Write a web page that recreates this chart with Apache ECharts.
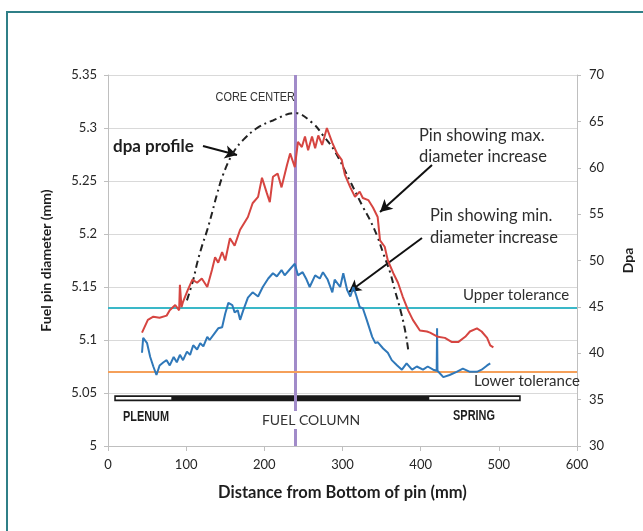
<!DOCTYPE html>
<html><head><meta charset="utf-8">
<script src="https://cdn.jsdelivr.net/npm/echarts@6.0.0/dist/echarts.min.js"></script>
<style>html,body{margin:0;padding:0;background:#fff}#c{width:643px;height:531px}</style>
</head><body><div id="c"></div>
<script>
// ---- data ----
const xTickLabels = [0, 100, 200, 300, 400, 500, 600];
const leftTickLabels = [5, 5.05, 5.1, 5.15, 5.2, 5.25, 5.3, 5.35];
const rightTickLabels = [30, 35, 40, 45, 50, 55, 60, 65, 70];

const maxPin = [[43.5,5.107],[51,5.119],[58,5.122],[66,5.121],[75,5.123],[79,5.128],[86,5.133],[91,5.128],[92,5.152],[94,5.131],[96,5.136],[102,5.147],[108,5.157],[114,5.154],[120,5.158],[127,5.150],[133,5.166],[137,5.178],[141,5.173],[146,5.183],[150,5.175],[156,5.196],[162,5.189],[169,5.204],[179,5.216],[185,5.229],[192,5.235],[197,5.253],[203,5.239],[207,5.230],[211,5.254],[217,5.257],[222,5.244],[229,5.265],[233,5.276],[239,5.263],[243,5.287],[248,5.282],[252,5.292],[256,5.279],[261,5.292],[265,5.281],[269,5.293],[274,5.284],[280,5.300],[287,5.286],[293,5.276],[299,5.270],[303,5.256],[310,5.244],[316,5.235],[322,5.240],[326,5.234],[333,5.232],[339,5.225],[345,5.216],[348,5.194],[354,5.188],[358,5.175],[365,5.163],[371,5.154],[377,5.141],[384,5.128],[390,5.119],[399,5.109],[408,5.108],[412,5.107],[422,5.103],[431,5.102],[440,5.098],[448,5.098],[457,5.103],[463,5.108],[472,5.111],[478,5.108],[485,5.102],[489,5.095],[493,5.093]];

const minPin = [[43.5,5.088],[45,5.102],[50,5.097],[54,5.084],[58,5.075],[62,5.067],[66,5.076],[71,5.079],[75,5.081],[79,5.076],[84,5.084],[88,5.079],[92,5.086],[96,5.081],[101,5.089],[105,5.086],[109,5.095],[114,5.091],[118,5.097],[122,5.094],[127,5.103],[130,5.100],[137,5.107],[141,5.111],[146,5.112],[150,5.125],[154,5.135],[159,5.133],[162,5.126],[166,5.128],[169,5.119],[173,5.128],[179,5.140],[185,5.145],[192,5.141],[198,5.150],[205,5.158],[211,5.163],[216,5.160],[222,5.166],[226,5.161],[233,5.167],[239,5.172],[243,5.161],[249,5.164],[254,5.157],[258,5.150],[265,5.161],[271,5.158],[275,5.164],[281,5.157],[287,5.145],[290,5.157],[297,5.150],[301,5.163],[306,5.147],[310,5.141],[314,5.150],[318,5.141],[322,5.131],[326,5.130],[331,5.119],[338,5.103],[342,5.097],[345,5.098],[352,5.092],[358,5.088],[363,5.081],[370,5.076],[376,5.072],[382,5.078],[389,5.072],[395,5.075],[403,5.072],[409,5.075],[416,5.072],[420.5,5.071],[421,5.111],[421.5,5.071],[429,5.065],[437,5.067],[446,5.070],[454,5.073],[463,5.070],[472,5.070],[478,5.072],[485,5.076],[489,5.078]];

const dpaProfile = [[101,45.7],[109,47.9],[114,49.7],[120,51.5],[127,53.3],[133,55.1],[139,57.0],[147,59.2],[160,61.6],[173,63.0],[191,64.3],[211,65.1],[239,65.9],[262,64.8],[275,63.5],[290,61.8],[310,58.5],[326,55.8],[335,54.4],[345,52.5],[352,50.8],[361,48.7],[367,46.8],[374,44.7],[380,42.5],[384,40.4]];

const coreCenter = 240;
const upperTolerance = 5.13;
const lowerTolerance = 5.07;
const barLevel = 5.045;
const pinExtent = [8, 528];
const fuelColumn = [82, 409];
const plenum = [10, 81];
const spring = [411, 526];

// annotation arrows (start -> end) in data units
const arrows = [
  [[121.5, 5.283], [165, 5.2745]],
  [[414.5, 5.265], [348, 5.2208]],
  [[401.7, 5.1962], [308.3, 5.1453]]
];

const FONT = 'Lato, "Open Sans", sans-serif';
const chart = echarts.init(document.getElementById('c'), null, {renderer: 'canvas'});

function txt(text, x, y, size, opts) {
  opts = opts || {};
  return {
    type: 'text', x: x, y: y, z: 100, silent: true,
    scaleX: opts.scaleX || 1,
    style: Object.assign({
      text: text,
      font: (opts.weight || 'normal') + ' ' + size + 'px ' + (opts.family || FONT),
      fill: opts.color || '#2e2e2e',
      align: opts.align || 'left',
      verticalAlign: 'middle'
    }, opts.extra || {})
  };
}

const NARROW = '"Liberation Sans", Arial, sans-serif';

const option = {
  animation: false,
  backgroundColor: '#fff',
  grid: {left: 108, right: 66, top: 75, bottom: 85, containLabel: false},
  xAxis: {
    type: 'value', min: 0, max: 600, interval: 100,
    axisLine: {show: true, lineStyle: {color: '#bfbfbf', width: 1}},
    axisTick: {show: true, length: 5, lineStyle: {color: '#bfbfbf'}},
    splitLine: {show: false},
    axisLabel: {fontSize: 13, color: '#262626', fontFamily: FONT, margin: 12,
      formatter: function (v) { return xTickLabels.indexOf(v) >= 0 ? String(v) : ''; }},
    name: 'Distance from Bottom of pin (mm)', nameLocation: 'middle', nameGap: 38,
    nameTextStyle: {fontSize: 16.5, fontWeight: 'bold', color: '#1e1e1e', fontFamily: FONT}
  },
  yAxis: [{
    type: 'value', min: 5, max: 5.35, interval: 0.05,
    axisLine: {show: true, lineStyle: {color: '#bfbfbf'}},
    axisTick: {show: true, length: 4, lineStyle: {color: '#bfbfbf'}},
    splitLine: {show: true, lineStyle: {color: '#d9d9d9', width: 1}},
    axisLabel: {fontSize: 13, color: '#262626', fontFamily: FONT, margin: 11,
      formatter: function (v) { return String(+v.toFixed(2)); }},
    name: 'Fuel pin diameter (mm)', nameLocation: 'middle', nameGap: 55, nameRotate: 90,
    nameTextStyle: {fontSize: 14, fontWeight: 'bold', color: '#1e1e1e', fontFamily: FONT}
  }, {
    type: 'value', min: 30, max: 70, interval: 5, position: 'right',
    axisLine: {show: true, lineStyle: {color: '#bfbfbf'}},
    axisTick: {show: true, length: 4, lineStyle: {color: '#bfbfbf'}},
    splitLine: {show: false},
    axisLabel: {fontSize: 13, color: '#262626', fontFamily: FONT, margin: 12},
    name: 'Dpa', nameLocation: 'middle', nameGap: 44, nameRotate: 90,
    nameTextStyle: {fontSize: 14, fontWeight: 'bold', color: '#1e1e1e', fontFamily: FONT}
  }],
  series: [
    {
      name: 'pin', type: 'line', data: [[pinExtent[0], barLevel], [pinExtent[1], barLevel]],
      showSymbol: false, silent: true, z: 3,
      lineStyle: {color: '#1a1a1a', width: 6}
    },
    {
      name: 'plenum', type: 'line', data: [[plenum[0], barLevel], [plenum[1], barLevel]],
      showSymbol: false, silent: true, z: 4,
      lineStyle: {color: '#ffffff', width: 2.5}
    },
    {
      name: 'spring', type: 'line', data: [[spring[0], barLevel], [spring[1], barLevel]],
      showSymbol: false, silent: true, z: 4,
      lineStyle: {color: '#ffffff', width: 2.5},
      markLine: {
        silent: true, symbol: 'none', label: {show: false}, animation: false,
        data: [
          {xAxis: coreCenter, lineStyle: {color: '#a18bc9', width: 3, type: 'solid'}},
          {yAxis: upperTolerance, lineStyle: {color: '#3ab8c8', width: 2, type: 'solid'}},
          {yAxis: lowerTolerance, lineStyle: {color: '#f5a05a', width: 2, type: 'solid'}}
        ]
      }
    },
    {
      name: 'dpa', type: 'line', yAxisIndex: 1, data: dpaProfile, smooth: 0.4,
      showSymbol: false, silent: true, z: 5,
      lineStyle: {color: '#222', width: 2, type: [7, 4, 2, 4]}
    },
    {
      name: 'min', type: 'line', data: minPin, showSymbol: false, silent: true, z: 6,
      lineStyle: {color: '#2f78b9', width: 2}
    },
    {
      name: 'max', type: 'line', data: maxPin, showSymbol: false, silent: true, z: 6,
      lineStyle: {color: '#d64541', width: 2},
      markLine: {
        silent: true, symbol: ['none', 'arrow'], symbolSize: [10, 12], label: {show: false}, animation: false,
        lineStyle: {color: '#111', width: 2, type: 'solid'},
        data: arrows.map(a => [{coord: a[0]}, {coord: a[1]}])
      }
    }
  ],
  graphic: [
    {type: 'rect', z: 100, silent: true, shape: {x: 7, y: 12, width: 700, height: 600},
      style: {fill: 'none', stroke: '#2f7f87', lineWidth: 2}},
    txt('CORE CENTER', 295, 97, 13, {align: 'right', color: '#333', family: NARROW, scaleX: 0.84}),
    txt('dpa profile', 113, 147, 17, {weight: 'bold', color: '#1e1e1e'}),
    txt('Pin showing max.', 419, 136, 16.5),
    txt('diameter increase', 419, 157, 16.5),
    txt('Pin showing min.', 430, 216, 16.5),
    txt('diameter increase', 430, 238, 16.5),
    txt('Upper tolerance', 463, 295, 15),
    txt('Lower tolerance', 474, 381, 15),
    txt('PLENUM', 146, 417, 14, {align: 'center', weight: 'bold', family: NARROW, color: '#1e1e1e', scaleX: 0.78}),
    txt('SPRING', 474, 416, 14, {align: 'center', weight: 'bold', family: NARROW, color: '#1e1e1e', scaleX: 0.78}),
    txt('FUEL COLUMN', 311, 420, 14, {align: 'center', color: '#333',
      extra: {backgroundColor: '#fff', padding: [2, 2, 2, 2]}})
  ]
};
chart.setOption(option);
</script>
</body></html>
